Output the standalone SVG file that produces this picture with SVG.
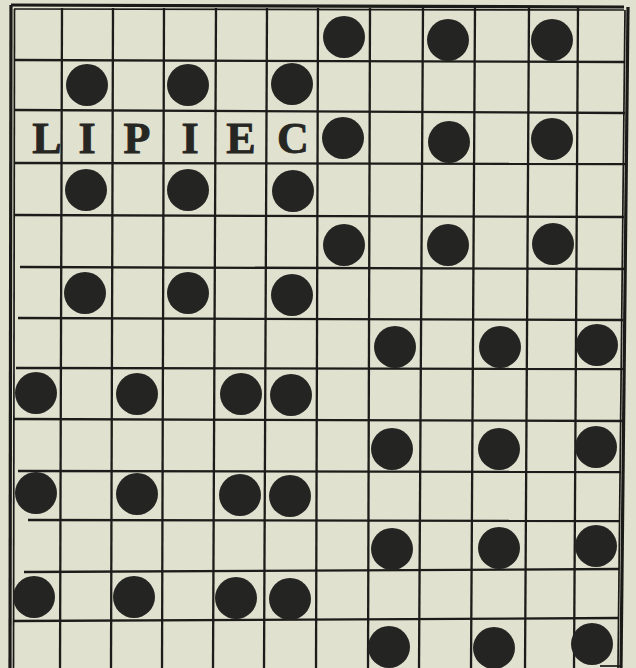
<svg xmlns="http://www.w3.org/2000/svg" width="636" height="668" viewBox="0 0 636 668">
<style>
.bg{fill:#e0e1cf}
.g{stroke:#1c1c1a;stroke-width:2.3;fill:none}
.b{stroke:#1a1a18;stroke-width:3.2;fill:none}
.bi{stroke:#1a1a18;stroke-width:1.7;fill:none}
.d{fill:#242422}
.t{font-family:"Liberation Serif","Times New Roman",serif;font-weight:bold;font-size:44px;fill:#262623;stroke:#262623;stroke-width:0.8;text-anchor:middle}
</style>
<rect class="bg" x="0" y="0" width="636" height="668"/>
<g id="grid">
  <line class="g" x1="62" y1="8" x2="60" y2="668"/>
  <line class="g" x1="113" y1="8" x2="111" y2="668"/>
  <line class="g" x1="164" y1="8" x2="162" y2="668"/>
  <line class="g" x1="216" y1="8" x2="213" y2="668"/>
  <line class="g" x1="267" y1="8" x2="264" y2="668"/>
  <line class="g" x1="318" y1="8" x2="316" y2="668"/>
  <line class="g" x1="370" y1="8" x2="368" y2="668"/>
  <line class="g" x1="423" y1="8" x2="419" y2="668"/>
  <line class="g" x1="475" y1="8" x2="471" y2="668"/>
  <line class="g" x1="529" y1="8" x2="525" y2="668"/>
  <line class="g" x1="578" y1="8" x2="574" y2="668"/>
  <line class="g" x1="14" y1="60" x2="625" y2="62"/>
  <line class="g" x1="14" y1="110" x2="625" y2="113"/>
  <line class="g" x1="14" y1="163" x2="625" y2="164"/>
  <line class="g" x1="14" y1="215" x2="624" y2="217"/>
  <line class="g" x1="20" y1="267" x2="624" y2="269"/>
  <line class="g" x1="18" y1="318" x2="623" y2="320"/>
  <line class="g" x1="16" y1="368" x2="623" y2="369"/>
  <line class="g" x1="14" y1="419" x2="622" y2="421"/>
  <line class="g" x1="18" y1="471" x2="621" y2="472"/>
  <line class="g" x1="28" y1="520" x2="620" y2="521"/>
  <line class="g" x1="24" y1="572" x2="619" y2="569"/>
  <line class="g" x1="14" y1="621" x2="619" y2="618"/>
  <line class="b" x1="11" y1="5" x2="624" y2="7"/>
  <line class="bi" x1="14" y1="9" x2="624" y2="10"/>
  <line class="b" x1="11" y1="5" x2="10" y2="668"/>
  <line class="bi" x1="14.5" y1="9" x2="13.5" y2="668"/>
  <line class="b" x1="628" y1="7" x2="621" y2="668"/>
  <line class="bi" x1="625" y1="10" x2="618" y2="668"/>
  <line class="bi" x1="600" y1="666" x2="621" y2="666"/>
</g>
<g id="dots">
  <circle class="d" cx="344" cy="37" r="21"/>
  <circle class="d" cx="448" cy="40" r="21"/>
  <circle class="d" cx="552" cy="40" r="21"/>
  <circle class="d" cx="87" cy="85" r="21"/>
  <circle class="d" cx="188" cy="85" r="21"/>
  <circle class="d" cx="292" cy="84" r="21"/>
  <circle class="d" cx="343" cy="138" r="21"/>
  <circle class="d" cx="449" cy="142" r="21"/>
  <circle class="d" cx="552" cy="139" r="21"/>
  <circle class="d" cx="86" cy="190" r="21"/>
  <circle class="d" cx="188" cy="190" r="21"/>
  <circle class="d" cx="293" cy="191" r="21"/>
  <circle class="d" cx="344" cy="245" r="21"/>
  <circle class="d" cx="448" cy="245" r="21"/>
  <circle class="d" cx="553" cy="244" r="21"/>
  <circle class="d" cx="85" cy="293" r="21"/>
  <circle class="d" cx="188" cy="293" r="21"/>
  <circle class="d" cx="292" cy="295" r="21"/>
  <circle class="d" cx="395" cy="347" r="21"/>
  <circle class="d" cx="500" cy="347" r="21"/>
  <circle class="d" cx="597" cy="345" r="21"/>
  <circle class="d" cx="36" cy="393" r="21"/>
  <circle class="d" cx="137" cy="394" r="21"/>
  <circle class="d" cx="241" cy="394" r="21"/>
  <circle class="d" cx="291" cy="395" r="21"/>
  <circle class="d" cx="392" cy="449" r="21"/>
  <circle class="d" cx="499" cy="449" r="21"/>
  <circle class="d" cx="596" cy="447" r="21"/>
  <circle class="d" cx="36" cy="493" r="21"/>
  <circle class="d" cx="137" cy="494" r="21"/>
  <circle class="d" cx="240" cy="495" r="21"/>
  <circle class="d" cx="290" cy="496" r="21"/>
  <circle class="d" cx="392" cy="549" r="21"/>
  <circle class="d" cx="499" cy="548" r="21"/>
  <circle class="d" cx="596" cy="546" r="21"/>
  <circle class="d" cx="34" cy="597" r="21"/>
  <circle class="d" cx="134" cy="597" r="21"/>
  <circle class="d" cx="236" cy="598" r="21"/>
  <circle class="d" cx="290" cy="599" r="21"/>
  <circle class="d" cx="389" cy="647" r="21"/>
  <circle class="d" cx="494" cy="648" r="21"/>
  <circle class="d" cx="592" cy="644" r="21"/>
</g>
<g id="label">
  <text class="t" x="47 87 137 190 241 293" y="153">LIPIEC</text>
</g>
</svg>
